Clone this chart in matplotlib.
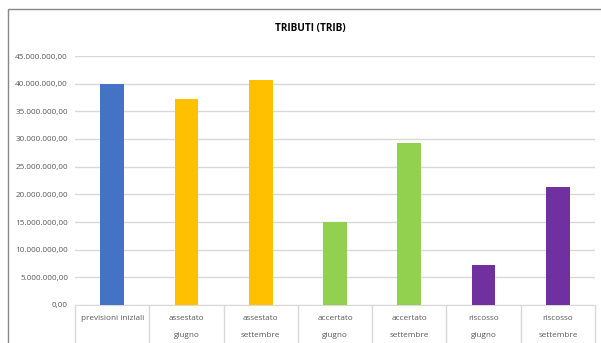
import matplotlib
matplotlib.use("Agg")
import matplotlib.pyplot as plt
from matplotlib.patches import Rectangle
from matplotlib.ticker import FuncFormatter

categories = ["previsioni iniziali", "assestato\ngiugno", "assestato\nsettembre",
              "accertato\ngiugno", "accertato\nsettembre", "riscosso\ngiugno",
              "riscosso\nsettembre"]
values = [39900000, 37200000, 40700000, 14950000, 29300000, 7230000, 21300000]
colors = ["#4472C4", "#FFC000", "#FFC000", "#92D050", "#92D050", "#7030A0", "#7030A0"]

plt.rcParams['font.family'] = ['Open Sans', 'DejaVu Sans']

fig = plt.figure(figsize=(6.01, 3.43), dpi=100)
ax = fig.add_axes([75/601, 1 - 305/343, 520/601, (305 - 56)/343])

# chart border (cropped on right/bottom)
fig.patches.append(Rectangle((8/601, -0.1), 1.2, 1 - 9/343 + 0.1, transform=fig.transFigure,
                             fill=False, edgecolor="#888888", linewidth=1.0))

x = range(len(values))
ax.bar(x, values, width=0.32, color=colors, zorder=3)

ax.set_ylim(0, 45000000)
ax.set_xlim(-0.5, len(values) - 0.5)
ax.set_yticks(range(0, 45000001, 5000000))
ax.yaxis.set_major_formatter(FuncFormatter(
    lambda v, p: "{:,.2f}".format(v).replace(",", "X").replace(".", ",").replace("X", ".")))
ax.grid(axis="y", color="#D9D9D9", linewidth=1.0, zorder=0)

for s in ["top", "right", "left"]:
    ax.spines[s].set_visible(False)
ax.spines["bottom"].set_color("#D9D9D9")

ax.tick_params(axis="y", length=0, pad=5, labelsize=5.9, labelcolor="#595959")

# category separators as major ticks, labels on minor ticks
ax.set_xticks([i - 0.5 for i in range(len(values) + 1)])
ax.set_xticklabels([])
ax.tick_params(axis="x", which="major", length=30, color="#D9D9D9", width=1.0, direction="out")
ax.set_xticks(list(x), minor=True)
ax.set_xticklabels(categories, minor=True, fontsize=5.9, color="#595959", linespacing=3.1,
                   va="top")
ax.tick_params(axis="x", which="minor", length=0, pad=7)

fig.text(310/601, 1 - 29/343, "TRIBUTI (TRIB)", ha="center", va="center",
         fontsize=7.2, fontweight="bold", color="#000000")

fig.savefig("out.png", dpi=100)
